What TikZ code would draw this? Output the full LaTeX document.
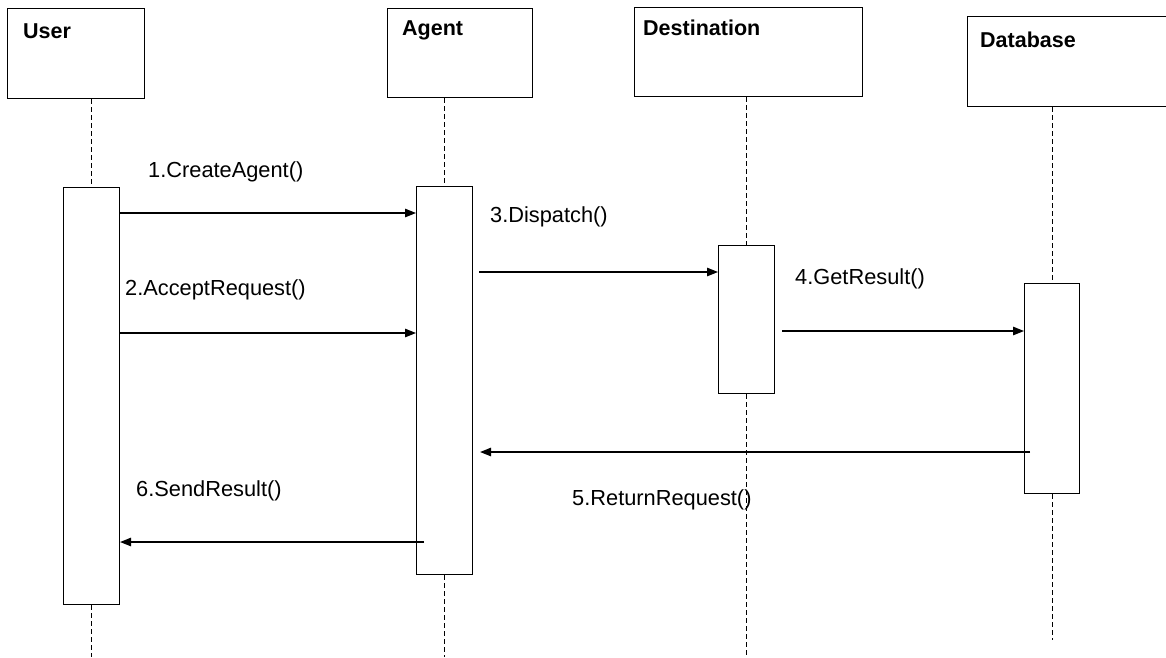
\documentclass[tikz,border=0pt]{standalone}
\usepackage{fontspec}
\setmainfont{Liberation Sans}
\usetikzlibrary{arrows.meta}
\begin{document}
\begin{tikzpicture}[x=1pt,y=-1pt,
  headbox/.style={draw, line width=1.4pt, inner sep=0, anchor=north west},
  actbox/.style={draw, line width=1.1pt, inner sep=0, anchor=north west, fill=white},
  headlabel/.style={anchor=base west, inner sep=0, font=\fontsize{21.5}{25}\selectfont\bfseries},
  msglabel/.style={anchor=base west, inner sep=0, font=\fontsize{21.8}{26}\selectfont},
  lifeline/.style={line width=0.6pt, dash pattern=on 5pt off 3pt},
  msg/.style={line width=1.2pt, -{Triangle[length=11pt,width=8.5pt]}}]
\useasboundingbox (0,0) rectangle (1166,657);
\clip (0,0) rectangle (1166,657);

% object heads
\node[headbox, minimum width=137, minimum height=90] (user) at (7,8) {};
\node[headbox, minimum width=145, minimum height=89] (agent) at (387,8) {};
\node[headbox, minimum width=228, minimum height=89] (dest) at (634,7) {};
\node[headbox, minimum width=215, minimum height=90] (db) at (967,16) {};
\node[headlabel] (userlbl) at (23,38) {User};
\node[headlabel] (agentlbl) at (402,35) {Agent};
\node[headlabel] (destlbl) at (643,35) {Destination};
\node[headlabel] (dblbl) at (980,47) {Database};

% activation bars
\node[actbox, minimum width=56, minimum height=417] (uact) at (63,187) {};
\node[actbox, minimum width=56, minimum height=388] (aact) at (416,186) {};
\node[actbox, minimum width=56, minimum height=148] (dact) at (718,245) {};
\node[actbox, minimum width=55, minimum height=210] (dbact) at (1024,283) {};

% lifeline ends
\coordinate (uend) at (91,657);
\coordinate (aend) at (444,657);
\coordinate (dend) at (746,657);
\coordinate (dbend) at (1051,640);

% lifelines
\draw[lifeline] (uact.north |- user.south) -- (uact.north);
\draw[lifeline] (uact.south) -- (uact.south |- uend);
\draw[lifeline] (aact.north |- agent.south) -- (aact.north);
\draw[lifeline] (aact.south) -- (aact.south |- aend);
\draw[lifeline] (dact.north |- dest.south) -- (dact.north);
\draw[lifeline] (dact.south) -- (dact.south |- dend);
\draw[lifeline] (dbact.north |- db.south) -- (dbact.north);
\draw[lifeline] (dbact.south) -- (dbact.south |- dbend);

% message rows
\coordinate (m1) at (0,213);
\coordinate (m2) at (0,333);
\coordinate (m3) at (0,272);
\coordinate (m4) at (0,331);
\coordinate (m5) at (0,452);
\coordinate (m6) at (0,542);

% messages
\draw[msg] (uact.east |- m1) -- (aact.west |- m1);
\draw[msg] (uact.east |- m2) -- (aact.west |- m2);
\draw[msg] ([xshift=6pt]aact.east |- m3) -- (dact.west |- m3);
\draw[msg] ([xshift=7pt]dact.east |- m4) -- (dbact.west |- m4);
\draw[msg] ([xshift=6pt]dbact.west |- m5) -- ([xshift=7pt]aact.east |- m5);
\draw[msg] ([xshift=8pt]aact.west |- m6) -- (uact.east |- m6);

% message labels
\node[msglabel] (l1) at (148,177) {1.CreateAgent()};
\node[msglabel] (l2) at (125,295) {2.AcceptRequest()};
\node[msglabel] (l3) at (490,222) {3.Dispatch()};
\node[msglabel] (l4) at (795,284) {4.GetResult()};
\node[msglabel] (l5) at (572,505) {5.ReturnRequest()};
\node[msglabel] (l6) at (136,496) {6.SendResult()};
\end{tikzpicture}
\end{document}
